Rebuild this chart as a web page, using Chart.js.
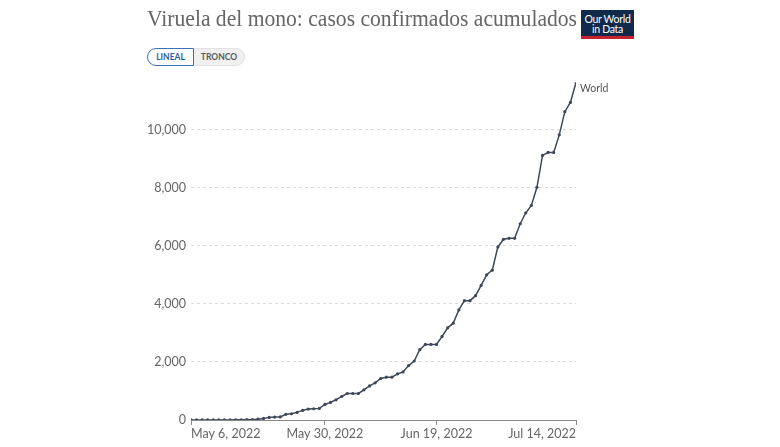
<!DOCTYPE html>
<html><head><meta charset="utf-8">
<script src="https://cdn.jsdelivr.net/npm/chart.js@4.4.1/dist/chart.umd.min.js"></script>
<style>
html,body{margin:0;padding:0;background:#fff;width:780px;height:447px;overflow:hidden;}
#wrap{position:relative;width:780px;height:447px;}
#c{position:absolute;left:0;top:0;}
#title{position:absolute;left:147px;top:5px;font-family:"Liberation Serif","DejaVu Serif",serif;font-size:24px;color:#666;white-space:nowrap;transform-origin:0 0;}
#logo{position:absolute;left:581px;top:10px;width:53px;height:29px;background:#102a4c;color:#fff;font-family:Lato,sans-serif;font-size:10.5px;line-height:10px;text-align:center;box-sizing:border-box;padding-top:4px;border-bottom:3px solid #c8202f;letter-spacing:-0.3px;}
#btns{position:absolute;left:147px;top:48px;height:18px;display:flex;font-family:Lato,sans-serif;font-size:8.5px;font-weight:bold;}
#b1{box-sizing:border-box;width:47px;height:18px;border:1px solid #3e70b5;border-radius:9px 0 0 9px;color:#2f5c9c;background:#fff;text-align:center;line-height:16px;}
#b2{box-sizing:border-box;width:51px;height:18px;border:1px solid #e2e2e2;border-left:none;border-radius:0 9px 9px 0;color:#5a5a5a;background:#f0f0f0;text-align:center;line-height:16px;}
</style>
</head><body>
<div id="wrap">
<canvas id="c" width="780" height="447"></canvas>
<div id="title">Viruela del mono: casos confirmados acumulados</div>
<div id="logo">Our World<br>in Data</div>
<div id="btns"><div id="b1">LINEAL</div><div id="b2">TRONCO</div></div>
</div>
<script>
// Days since May 6, 2022 (daily)
const startDate = '2022-05-06';
const cases = [1,1,1,1,2,2,2,3,5,8,12,18,30,55,90,100,105,195,216,262,
  330,376,388,400,536,605,696,810,913,913,913,1040,1175,1280,1428,1473,1473,1586,1655,1873,
  2031,2420,2603,2603,2603,2877,3174,3333,3790,4110,4110,4281,4634,5000,5160,5959,6222,6255,6255,6758,
  7135,7387,8014,9110,9212,9212,9818,10616,10936,11621];
const days = cases.map((_, i) => i);
const seriesName = 'World';
const xTickDays = [0, 24, 44, 69];
const xTickLabels = ['May 6, 2022', 'May 30, 2022', 'Jun 19, 2022', 'Jul 14, 2022'];
const yTicks = [0, 2000, 4000, 6000, 8000, 10000];

// fit title width
(function(){
  const t = document.getElementById('title');
  const w = t.getBoundingClientRect().width;
  t.style.transform = 'scaleX(' + (430 / w) + ')';
})();

const lineColor = '#3f4859';
const labelPlugin = {
  id: 'labels',
  beforeDraw(chart) {
    const s = chart.scales.x;
    const items = s.getLabelItems();
    if (items && items.length) {
      items[0].options.textAlign = 'left';
      items[items.length - 1].options.textAlign = 'right';
    }
  },
  afterDatasetsDraw(chart) {
    const meta = chart.getDatasetMeta(0);
    const p = meta.data[meta.data.length - 1];
    const ctx = chart.ctx;
    ctx.save();
    ctx.font = '10.5px Lato';
    ctx.fillStyle = '#555';
    ctx.textAlign = 'left';
    ctx.textBaseline = 'middle';
    ctx.fillText(seriesName, p.x + 4, p.y + 6);
    ctx.restore();
  }
};

new Chart(document.getElementById('c'), {
  type: 'line',
  data: {
    datasets: [{
      label: seriesName,
      data: days.map((d, i) => ({x: d, y: cases[i]})),
      borderColor: lineColor,
      backgroundColor: lineColor,
      borderWidth: 1.5,
      pointRadius: 1.6,
      pointBorderWidth: 0,
      pointBackgroundColor: lineColor,
      tension: 0
    }]
  },
  options: {
    responsive: false,
    animation: false,
    devicePixelRatio: 1,
    layout: {padding: {left: 0, right: 204, top: 82.5, bottom: 0}},
    plugins: {legend: {display: false}, tooltip: {enabled: false}},
    scales: {
      x: {
        type: 'linear',
        min: 0,
        max: days[days.length - 1],
        afterBuildTicks(scale) { scale.ticks = xTickDays.map(v => ({value: v})); },
        afterFit(scale) { scale.height = 27; },
        ticks: {
          autoSkip: false,
          maxRotation: 0,
          padding: 1,
          color: '#666',
          font: {family: 'Lato', size: 12.5},
          callback(v) { const i = xTickDays.indexOf(v); return i >= 0 ? xTickLabels[i] : ''; }
        },
        grid: {drawOnChartArea: false, color: '#8a8a8a', tickLength: 5},
        border: {display: true, color: '#8a8a8a', width: 1}
      },
      y: {
        type: 'linear',
        min: 0,
        max: Math.max(...cases),
        afterBuildTicks(scale) { scale.ticks = yTicks.map(v => ({value: v})); },
        afterFit(scale) { scale.width = 191; },
        ticks: {
          padding: 5,
          color: '#666',
          font: {family: 'Lato', size: 12.5},
          callback(v) { return v.toLocaleString('en-US'); }
        },
        grid: {color: '#dcdcdc', drawTicks: false, lineWidth: 1},
        border: {display: false, dash: [3, 3]}
      }
    }
  },
  plugins: [labelPlugin]
});
</script>
</body></html>
